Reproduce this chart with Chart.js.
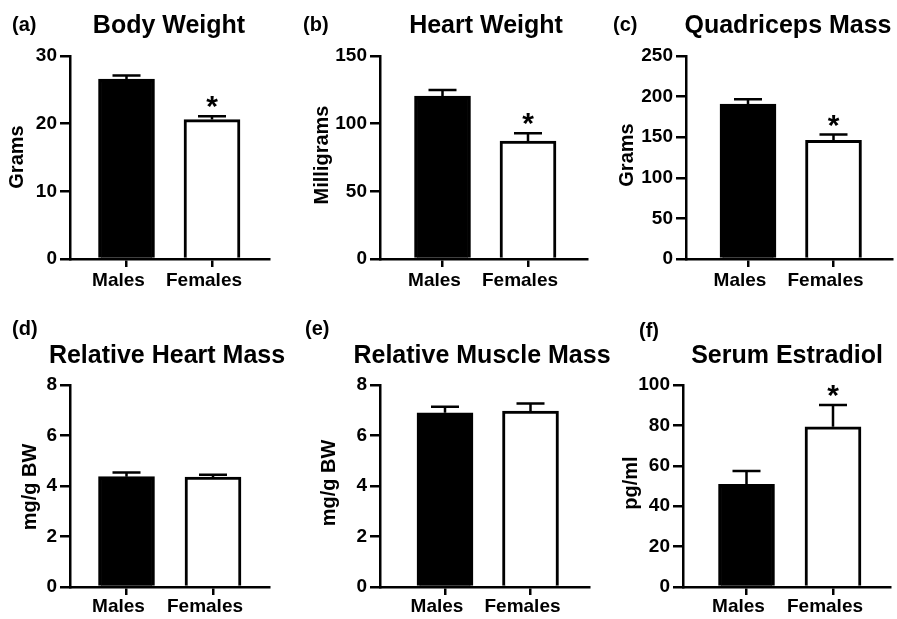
<!DOCTYPE html>
<html><head><meta charset="utf-8">
<script src="https://cdn.jsdelivr.net/npm/chart.js@4.4.1/dist/chart.umd.min.js"></script>
<style>
html,body{margin:0;padding:0;background:#fff;}
#wrap{position:relative;width:897px;height:619px;overflow:hidden;background:#fff;}
#wrap canvas{position:absolute;left:0;top:0;}
</style></head>
<body><div id="wrap"></div>
<script>
// ---- data ----
const categories = ['Males', 'Females'];
const bodyWeight = [26.6, 20.6];
const bodyWeightErr = [0.5, 0.5];
const heartWeight = [120.4, 87.2];
const heartWeightErr = [4.4, 5.7];
const quadMass = [190.9, 146.2];
const quadMassErr = [5.8, 7.0];
const relHeart = [4.37, 4.35];
const relHeartErr = [0.16, 0.10];
const relMuscle = [6.90, 6.97];
const relMuscleErr = [0.24, 0.30];
const estradiol = [50.8, 79.3];
const estradiolErr = [6.6, 10.8];
const sigBody = [false, true];
const sigHeart = [false, true];
const sigQuad = [false, true];
const sigRelHeart = [false, false];
const sigRelMuscle = [false, false];
const sigEstradiol = [false, true];
const panelTitles = ['Body Weight', 'Heart Weight', 'Quadriceps Mass', 'Relative Heart Mass', 'Relative Muscle Mass', 'Serum Estradiol'];
const panelLetters = ['(a)', '(b)', '(c)', '(d)', '(e)', '(f)'];
const yTitles = ['Grams', 'Milligrams', 'Grams', 'mg/g BW', 'mg/g BW', 'pg/ml'];
const yMaxes = [30, 150, 250, 8, 8, 100];
const ySteps = [10, 50, 50, 2, 2, 20];

// ---- layout (pixels) ----
const W = 897, H = 619;
const layouts = [
  {axisX:70,  xEnd:269, topY:56,  zeroY:259, c0:126.5, c1:212,   xPad:2, title:[169,33],  letter:[12,31],  yt:[17,157]},
  {axisX:380, xEnd:587, topY:56,  zeroY:259, c0:442.5, c1:528,   xPad:2, title:[486,33],  letter:[303,31], yt:[322,155]},
  {axisX:686, xEnd:892, topY:56,  zeroY:259, c0:748,   c1:833.5, xPad:2, title:[788,33],  letter:[613,31], yt:[627,155]},
  {axisX:70,  xEnd:269, topY:385, zeroY:587, c0:126.5, c1:213,   xPad:0, title:[167,363], letter:[12,335], yt:[30,487]},
  {axisX:380, xEnd:589, topY:385, zeroY:587, c0:445,   c1:530.5, xPad:0, title:[482,363], letter:[305,335],yt:[329,483]},
  {axisX:683, xEnd:890, topY:385, zeroY:587, c0:746.5, c1:833,   xPad:0, title:[787,363], letter:[639,337],yt:[631,483]}
];
const seriesList = [
  [bodyWeight, bodyWeightErr, sigBody],
  [heartWeight, heartWeightErr, sigHeart],
  [quadMass, quadMassErr, sigQuad],
  [relHeart, relHeartErr, sigRelHeart],
  [relMuscle, relMuscleErr, sigRelMuscle],
  [estradiol, estradiolErr, sigEstradiol]
];

const FONT = "'Liberation Sans', Arial, Helvetica, sans-serif";
Chart.defaults.font.family = FONT;
Chart.defaults.font.weight = 'bold';
Chart.defaults.color = '#000';

const wrap = document.getElementById('wrap');
const YW = 60, XH = 40;

function makePanel(idx) {
  const L = layouts[idx];
  const [vals, errs, sig] = seriesList[idx];
  const canvas = document.createElement('canvas');
  canvas.width = W; canvas.height = H;
  wrap.appendChild(canvas);
  const unit = L.c1 - L.c0;
  const xmin = -(L.c0 - L.axisX) / unit;
  const xmax = (L.xEnd - L.c0) / unit;

  const decor = {
    id: 'decor' + idx,
    afterDatasetsDraw(chart) {
      const ctx = chart.ctx;
      const xs = chart.scales.x, ys = chart.scales.y;
      ctx.save();
      ctx.strokeStyle = '#000';
      ctx.fillStyle = '#000';
      ctx.lineWidth = 2.5;
      vals.forEach((v, i) => {
        const x = xs.getPixelForValue(i);
        const yTop = ys.getPixelForValue(v);
        const yCap = ys.getPixelForValue(v + errs[i]);
        ctx.beginPath();
        ctx.moveTo(x, yTop);
        ctx.lineTo(x, yCap);
        ctx.moveTo(x - 14, yCap);
        ctx.lineTo(x + 14, yCap);
        ctx.stroke();
        if (sig[i]) {
          ctx.font = 'bold 30px ' + FONT;
          ctx.textAlign = 'center';
          ctx.textBaseline = 'alphabetic';
          ctx.fillText('*', x, yCap - 17 + 17);
        }
      });
      ctx.restore();
    },
    afterDraw(chart) {
      const ctx = chart.ctx;
      ctx.save();
      ctx.fillStyle = '#000';
      ctx.textBaseline = 'alphabetic';
      ctx.font = 'bold 25px ' + FONT;
      ctx.textAlign = 'center';
      ctx.fillText(panelTitles[idx], L.title[0], L.title[1]);
      ctx.font = 'bold 20px ' + FONT;
      ctx.textAlign = 'left';
      ctx.fillText(panelLetters[idx], L.letter[0], L.letter[1]);
      ctx.translate(L.yt[0], L.yt[1]);
      ctx.rotate(-Math.PI / 2);
      ctx.textAlign = 'center';
      ctx.textBaseline = 'middle';
      ctx.font = 'bold 20px ' + FONT;
      ctx.fillText(yTitles[idx], 0, 0);
      ctx.restore();
    }
  };

  new Chart(canvas, {
    type: 'bar',
    data: {
      datasets: [{
        data: vals.map((v, i) => ({x: i, y: v})),
        backgroundColor: ['#000000', '#ffffff'],
        borderColor: '#000000',
        borderWidth: 3,
        borderSkipped: 'start',
        barThickness: 56
      }]
    },
    options: {
      responsive: false,
      animation: false,
      devicePixelRatio: 1,
      events: [],
      layout: {padding: {left: L.axisX - YW, top: L.topY, right: W - L.xEnd, bottom: H - L.zeroY - XH}},
      plugins: {legend: {display: false}, tooltip: {enabled: false}, title: {display: false}},
      scales: {
        x: {
          type: 'linear',
          min: xmin, max: xmax,
          offset: false,
          afterBuildTicks: a => { a.ticks = categories.map((c, i) => ({value: i})); },
          afterFit: a => { a.height = XH; },
          grid: {display: true, offset: false, drawOnChartArea: false, drawTicks: true, tickLength: 8, color: '#000', lineWidth: 2.5},
          border: {display: true, color: '#000', width: 2.5},
          ticks: {
            callback: v => categories[v],
            color: '#000', font: {size: 19, weight: 'bold'},
            padding: L.xPad, labelOffset: -8, maxRotation: 0, autoSkip: false
          }
        },
        y: {
          min: 0, max: yMaxes[idx],
          afterFit: a => { a.width = YW; },
          grid: {display: true, drawOnChartArea: false, drawTicks: true, tickLength: 10, color: '#000', lineWidth: 2.5},
          border: {display: true, color: '#000', width: 2.5},
          ticks: {stepSize: ySteps[idx], color: '#000', font: {size: 19, weight: 'bold'}, padding: 3}
        }
      }
    },
    plugins: [decor]
  });
}

for (let i = 0; i < 6; i++) makePanel(i);
</script>
</body></html>
